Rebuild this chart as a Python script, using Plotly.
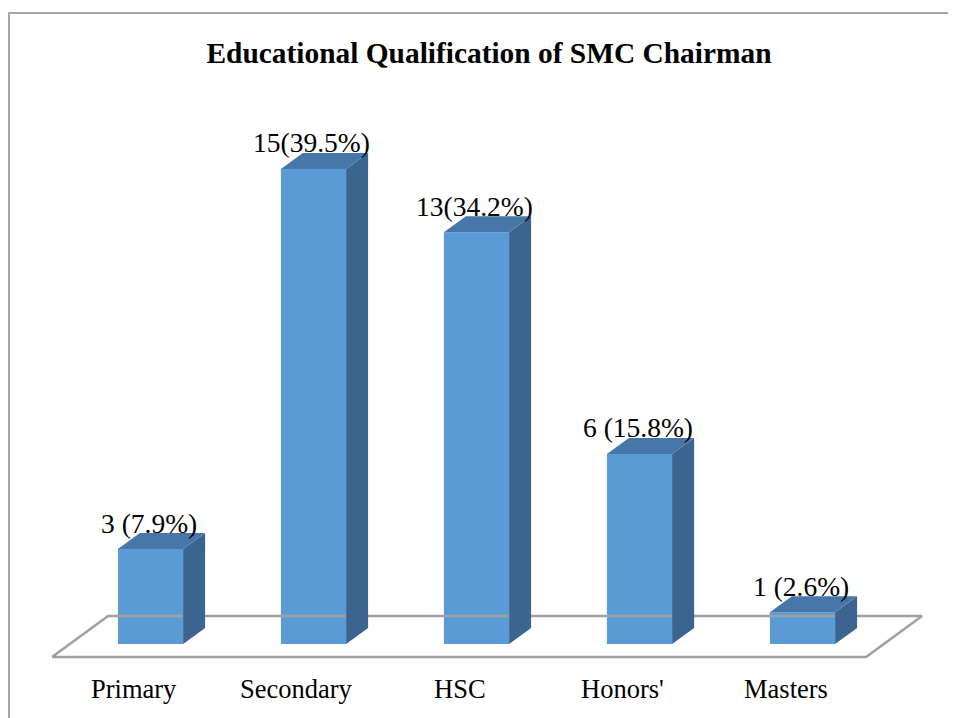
import plotly.graph_objects as go

categories = ["Primary", "Secondary", "HSC", "Honors'", "Masters"]
counts = [3, 15, 13, 6, 1]
value_labels = ["3 (7.9%)", "15(39.5%)", "13(34.2%)", "6 (15.8%)", "1 (2.6%)"]
title_text = "Educational Qualification of SMC Chairman"

# styling / 3D geometry (data units)
W = 0.4          # bar width in category units
DX = 0.135       # depth offset x
DY = 0.505       # depth offset y
FRONT = "#5B9BD5"
TOP = "#4677A8"
SIDE = "#3B6590"
FLOOR_COL = "#A0A0A0"
FONT = "Liberation Serif"
CAT_LABEL_OFFSET = -0.104   # category labels sit slightly left of bar centres

fig = go.Figure()

n = len(categories)
xs = list(range(n))

# floor parallelogram
fl_x0, fl_x1 = -0.604, (n - 1) + 0.39
fl_y = -0.41
fdx, fdy = 0.3436, 1.295
fig.add_trace(go.Scatter(
    x=[fl_x0, fl_x1, fl_x1 + fdx, fl_x0 + fdx, fl_x0],
    y=[fl_y, fl_y, fl_y + fdy, fl_y + fdy, fl_y],
    mode="lines", line=dict(color=FLOOR_COL, width=2.5),
    hoverinfo="skip", showlegend=False))

# front faces
fig.add_trace(go.Bar(x=xs, y=counts, width=W, marker=dict(color=FRONT, line=dict(width=0)),
                     showlegend=False, hoverinfo="skip"))

# side and top faces
for i, v in zip(xs, counts):
    r = i + W / 2
    l = i - W / 2
    fig.add_trace(go.Scatter(
        x=[r, r + DX, r + DX, r, r], y=[0, DY, v + DY, v, 0],
        fill="toself", fillcolor=SIDE, mode="lines", line=dict(width=0, color=SIDE),
        hoverinfo="skip", showlegend=False))
    fig.add_trace(go.Scatter(
        x=[l, r, r + DX, l + DX, l], y=[v, v, v + DY, v + DY, v],
        fill="toself", fillcolor=TOP, mode="lines", line=dict(width=0, color=TOP),
        hoverinfo="skip", showlegend=False))

annotations = []
for i, v, t in zip(xs, counts, value_labels):
    annotations.append(dict(x=i - 0.01, y=v + DY, text=t, showarrow=False, yanchor="middle",
                            yshift=10, font=dict(family=FONT, size=27.5, color="black")))
for i, c in zip(xs, categories):
    annotations.append(dict(x=i + CAT_LABEL_OFFSET, y=-1.42, text=c, showarrow=False,
                            yanchor="middle",
                            font=dict(family=FONT, size=26.5, color="black")))

fig.update_layout(
    width=956, height=718, autosize=False,
    margin=dict(l=0, r=0, t=0, b=0),
    paper_bgcolor="white", plot_bgcolor="white",
    title=dict(text="<b>" + title_text + "</b>", x=481 / 956, xanchor="center",
               y=1 - 45 / 718, yanchor="middle",
               font=dict(family=FONT, size=29.4, color="black")),
    xaxis=dict(range=[-0.8742, 4.9908], visible=False, fixedrange=True),
    yaxis=dict(range=[-2.589, 20.082], visible=False, fixedrange=True),
    annotations=annotations,
    shapes=[dict(type="rect", xref="paper", yref="paper",
                 x0=1 / 956, x1=1.02, y0=-0.02, y1=1 - 5 / 718,
                 line=dict(color="#A6A6A6", width=2), fillcolor="rgba(0,0,0,0)",
                 layer="below")],
    bargap=0.6,
)

fig.write_html("out.html")
